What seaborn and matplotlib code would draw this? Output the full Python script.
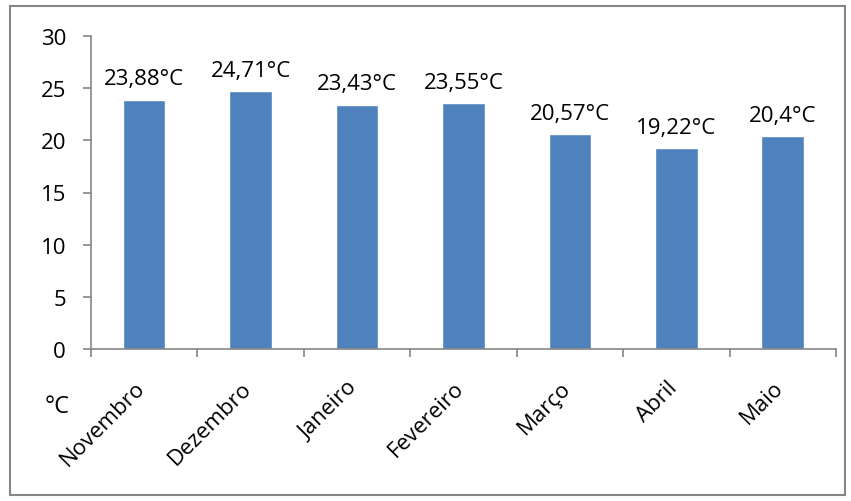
import matplotlib
matplotlib.use("Agg")
import matplotlib.pyplot as plt
import matplotlib.transforms as mtransforms
import seaborn as sns
import numpy as np
import pandas as pd
from matplotlib.patches import Rectangle

# data
meses = ["Novembro", "Dezembro", "Janeiro", "Fevereiro", "Março", "Abril", "Maio"]
temperaturas = [23.88, 24.71, 23.43, 23.55, 20.57, 19.22, 20.4]
rotulos = ["23,88°C", "24,71°C", "23,43°C", "23,55°C", "20,57°C", "19,22°C", "20,4°C"]

df = pd.DataFrame({"mes": meses, "temp": temperaturas})

sns.set_style("white")
plt.rcParams['font.family'] = ['Open Sans', 'DejaVu Sans']
plt.rcParams['text.color'] = 'black'
plt.rcParams['xtick.color'] = 'black'
plt.rcParams['ytick.color'] = 'black'

fig = plt.figure(figsize=(8.51, 5.02), dpi=100)
ax = fig.add_axes([91 / 851, 1 - 350 / 502, (836 - 91) / 851, (350 - 37) / 502])

sns.barplot(data=df, x="mes", y="temp", color="#4F81BD", width=0.4,
            saturation=1, ax=ax)

ax.set_ylim(0, 30)
ax.set_xlim(-0.5, len(meses) - 0.5)
ax.set_yticks(range(0, 31, 5))
ax.set_xlabel("")
ax.set_ylabel("")

for sp in ["top", "right"]:
    ax.spines[sp].set_visible(False)
for sp in ["left", "bottom"]:
    ax.spines[sp].set_color("#868686")
    ax.spines[sp].set_linewidth(1.2)

ax.tick_params(axis="y", direction="out", length=6, color="#868686", width=1.2,
               labelsize=16, pad=12, left=True)
ax.tick_params(axis="x", which="major", length=0, labelsize=16, pad=20)
ax.set_xticks(np.arange(-0.5, len(meses)), minor=True)
ax.tick_params(axis="x", which="minor", direction="out", length=6,
               color="#868686", width=1.2, bottom=True)
shift = mtransforms.ScaledTranslation(-7 / 72, 0, fig.dpi_scale_trans)
for lab in ax.get_xticklabels():
    lab.set_rotation(45)
    lab.set_ha("right")
    lab.set_rotation_mode("anchor")
    lab.set_transform(lab.get_transform() + shift)

for i, (v, t) in enumerate(zip(temperaturas, rotulos)):
    ax.text(i, v + 1.0, t, ha="center", va="bottom", fontsize=16)

fig.text(57 / 851, 1 - 407 / 502, "°C", ha="center", va="center", fontsize=17)

# gray frame around the chart area
fig.patches.append(Rectangle((10 / 851, 1 - 496 / 502), 835 / 851, 489 / 502,
                             transform=fig.transFigure, fill=False,
                             edgecolor="#868686", linewidth=1.5))

fig.savefig("out.png", dpi=100)
